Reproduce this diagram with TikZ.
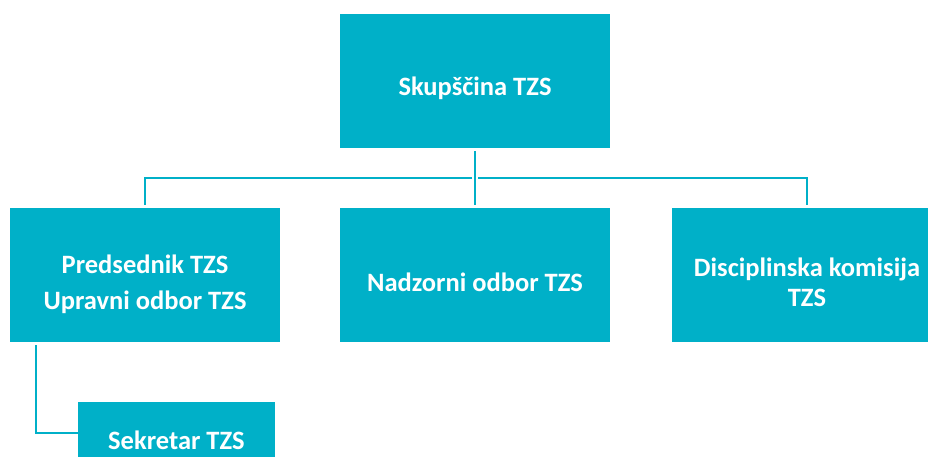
\documentclass[tikz,border=0pt]{standalone}
\usepackage{fontspec}
\setmainfont{Carlito}
\usetikzlibrary{positioning}
\definecolor{tzsblue}{RGB}{0,176,200}
\tikzset{
	orgbox/.style={fill=tzsblue,text=white,font=\bfseries\fontsize{26.5}{30}\selectfont,
		minimum width=270pt,minimum height=134pt,inner sep=0pt,align=center,
		execute at begin node={\rule{0pt}{#1}}},
	orgbox/.default=34pt,
	conn/.style={draw=tzsblue,line width=2.6pt,shorten <=3pt,shorten >=3pt}
}

\begin{document}
\begin{tikzpicture}[x=1pt,y=-1pt]
	\useasboundingbox (0,0) rectangle (928,457);
	\clip (0,0) rectangle (928,457);
	\node[orgbox] (skupscina) at (475,81) {Skupščina TZS}
	node[orgbox=73pt] (predsednik) at (145,275) {Predsednik TZS\\[6pt]Upravni odbor TZS}
	node[orgbox] (nadzorni) at (475,275) {Nadzorni odbor TZS}
	node[orgbox=63pt] (disciplinska) at (807,275) {Disciplinska komisija\\TZS}
	node[orgbox,minimum width=197pt,minimum height=62pt] (sekretar) at (176.5,433) {Sekretar TZS};
	
	\coordinate (bus) at (475,178);
	\draw[conn] (skupscina) -- (nadzorni);
	\draw[conn] (bus) -| (predsednik);
	\draw[conn] (bus) -| (disciplinska);
	\draw[conn,shorten >=0pt] (predsednik.south west) ++(26,0) |- (sekretar.west);
\end{tikzpicture}
\end{document}
